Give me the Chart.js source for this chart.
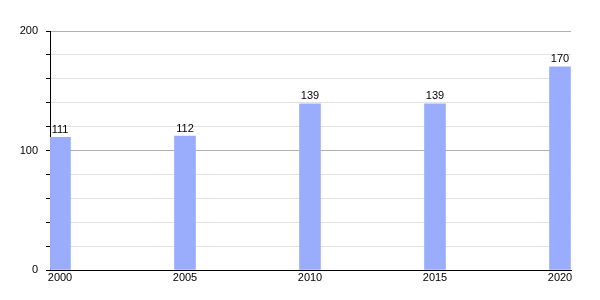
<!DOCTYPE html>
<html>
<head>
<meta charset="utf-8">
<script src="https://cdn.jsdelivr.net/npm/chart.js@4"></script>
<style>
  html, body { margin: 0; padding: 0; background: #fff; }
  #wrap { width: 600px; height: 300px; }
</style>
</head>
<body>
<div id="wrap"><canvas id="popChart" width="600" height="300"></canvas></div>
<script>
const years = [2000, 2005, 2010, 2015, 2020];
const population = [111, 112, 139, 139, 170];
const yTickLabels = [0, 100, 200];

// draws the value above each bar
const valueLabels = {
    id: 'valueLabels',
    afterDatasetsDraw(chart) {
        const ctx = chart.ctx;
        const meta = chart.getDatasetMeta(0);
        ctx.save();
        ctx.font = '11px "Liberation Sans", Arial, sans-serif';
        ctx.fillStyle = '#000';
        ctx.textAlign = 'center';
        ctx.textBaseline = 'bottom';
        meta.data.forEach((bar, i) => {
            ctx.fillText(String(population[i]), bar.x, bar.y - 2);
        });
        ctx.restore();
    }
};

document.addEventListener('DOMContentLoaded', () => {
    const ctx = document.getElementById('popChart').getContext('2d');
    new Chart(ctx, {
        type: 'bar',
        data: {
            datasets: [{
                data: years.map((y, i) => ({ x: y, y: population[i] })),
                backgroundColor: '#9aadfd',
                borderWidth: 0,
                barThickness: 21
            }]
        },
        options: {
            responsive: false,
            animation: false,
            layout: { padding: { top: 31, right: 29, left: 0, bottom: 0 } },
            plugins: {
                legend: { display: false },
                tooltip: { enabled: false }
            },
            scales: {
                x: {
                    type: 'linear',
                    offset: false,
                    min: 1999.6,
                    max: 2020.44,
                    afterBuildTicks: (axis) => {
                        axis.ticks = years.map(v => ({ value: v }));
                    },
                    afterFit: (axis) => { axis.height = 30; },
                    grid: { display: false, drawTicks: false },
                    border: { color: '#000', width: 1 },
                    ticks: {
                        color: '#000',
                        font: { size: 11, family: '"Liberation Sans", Arial, sans-serif' },
                        padding: 1,
                        maxRotation: 0,
                        callback: (v) => String(v)
                    }
                },
                y: {
                    min: 0,
                    max: 200,
                    afterFit: (axis) => { axis.width = 50; },
                    ticks: {
                        stepSize: 20,
                        color: '#000',
                        padding: 8,
                        font: { size: 11, family: '"Liberation Sans", Arial, sans-serif' },
                        callback: (v) => yTickLabels.includes(v) ? String(v) : ''
                    },
                    grid: {
                        color: (c) => (c.tick && c.tick.value % 100 === 0) ? '#b0b0b0' : '#e2e2e2',
                        tickColor: '#000',
                        tickLength: 4
                    },
                    border: { color: '#000', width: 1 }
                }
            }
        },
        plugins: [valueLabels]
    });
});
</script>
</body>
</html>
